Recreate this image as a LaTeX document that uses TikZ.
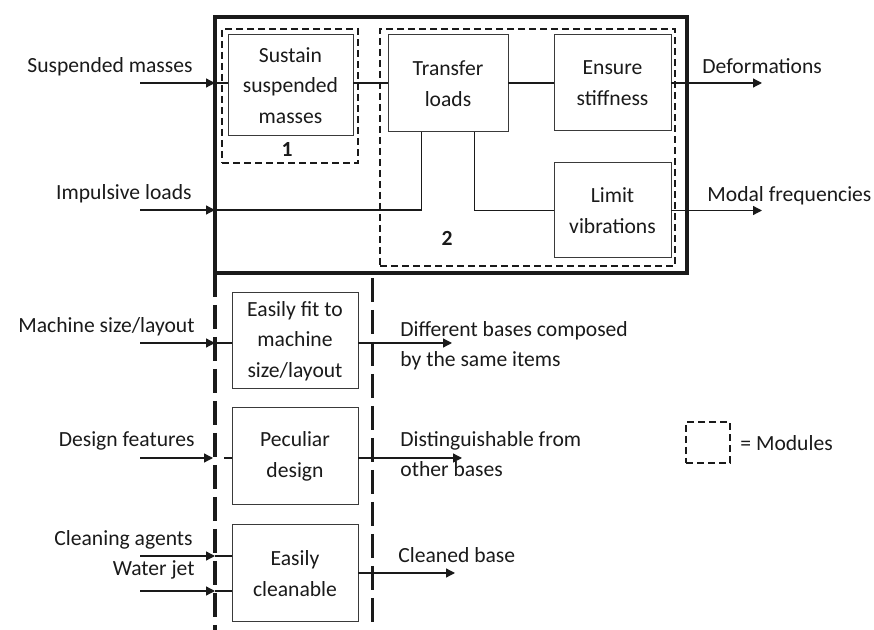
\documentclass[tikz,border=0pt]{standalone}
\usepackage{fontspec}
\setmainfont{Carlito}
\usepackage{tikz}
\usetikzlibrary{arrows.meta, positioning, calc}
\definecolor{ink}{HTML}{1A1A1A}
\definecolor{boxgray}{HTML}{3A3A3A}
\tikzset{
  % Function blocks
  funcbox/.style={
    rectangle, draw=boxgray, line width=0.5pt, fill=white, text=ink,
    align=center, inner sep=0pt, outer sep=0pt
  },
  % Module and frame boxes
  modulebox/.style={
    rectangle, draw=ink, line width=0.65pt, dash pattern=on 3.5pt off 2pt,
    inner sep=0pt, outer sep=0pt
  },
  frame/.style={rectangle, draw=ink, line width=1.75pt, inner sep=0pt, outer sep=0pt},
  lane/.style={draw=ink, line width=1.7pt, dash pattern=on 12pt off 4pt},
  % Arrow styles
  flow/.style={-{Triangle[length=4.5pt, width=4.5pt]}, line width=0.65pt, color=ink},
  link/.style={line width=0.65pt, color=ink},
  % Labels
  flowlabel/.style={inner sep=0pt, text=ink},
  modulelabel/.style={inner sep=0pt, text=ink, font=\fontsize{10.8}{15.3}\selectfont\bfseries},
}
\begin{document}
\begin{tikzpicture}[x=0.5pt, y=-0.5pt,
  every node/.style={font=\fontsize{10.8}{15.3}\selectfont}]
  \useasboundingbox (0,0) rectangle (874,630);

  % upper frame and modules
  \node[frame, minimum width=236pt, minimum height=128pt] (main) at (451,145) {};
  \node[modulebox, minimum width=68pt, minimum height=67pt] (mod1) at (290,96) {};
  \node[modulebox, minimum width=147.5pt, minimum height=118.5pt] (mod2) at (527.5,147.5) {};
  \node[modulelabel, anchor=base] (num1) at (287,157) {1};
  \node[modulelabel, anchor=base] (num2) at (447,246) {2};

  % functions
  \node[funcbox, minimum width=62.5pt, minimum height=50.5pt] (sustain) at (290.5,85.5) {Sustain\\suspended\\masses};
  \node[funcbox, minimum width=60pt, minimum height=48.5pt] (transfer) at (448,83.5) {Transfer\\loads};
  \node[funcbox, minimum width=58.5pt, minimum height=48pt] (ensure) at (612.5,83) {Ensure\\stiffness};
  \node[funcbox, minimum width=58.5pt, minimum height=47.5pt] (limit) at (612.5,210.5) {Limit\\vibrations};
  \node[funcbox, minimum width=63pt, minimum height=48pt] (fit) at (295,341) {Easily fit to\\machine\\size/layout};
  \node[funcbox, minimum width=63pt, minimum height=48.5pt] (peculiar) at (295,456.5) {Peculiar\\design};
  \node[funcbox, minimum width=63pt, minimum height=48.5pt] (clean) at (295,573.5) {Easily\\cleanable};

  % inputs and outputs
  \coordinate (inSM) at (140,83);
  \coordinate (inIL) at (140,210);
  \coordinate (inMS) at (140,343);
  \coordinate (inDF) at (140,458);
  \coordinate (inCA) at (140,556);
  \coordinate (inWJ) at (140,591);
  \coordinate (outDef) at (762,83);
  \coordinate (outMF) at (762,210.5);
  \coordinate (outDB) at (452,343);
  \coordinate (outDS) at (462,458);
  \coordinate (outCB) at (455,573);

  \node[flowlabel, anchor=base east] (lSM) at (193,73) {Suspended masses};
  \node[flowlabel, anchor=base east] (lIL) at (192,200) {Impulsive loads};
  \node[flowlabel, anchor=base east] (lMS) at (195,333) {Machine size/layout};
  \node[flowlabel, anchor=base east] (lDF) at (195,447) {Design features};
  \node[flowlabel, anchor=base east] (lCA) at (193,546) {Cleaning agents};
  \node[flowlabel, anchor=base east] (lWJ) at (195,576) {Water jet};
  \node[flowlabel, anchor=base west] (lDef) at (702,74) {Deformations};
  \node[flowlabel, anchor=base west] (lMF) at (707,201.5) {Modal frequencies};
  % multi-line labels sit on their last line
  \node[flowlabel, anchor=base west, align=left] (lDB) at (400,367) {Different bases composed\\by the same items};
  \node[flowlabel, anchor=base west, align=left] (lDS) at (400,477) {Distinguishable from\\other bases};
  \node[flowlabel, anchor=base west] (lCB) at (398,563) {Cleaned base};

  % upper connectors
  \draw[flow] (inSM) -- (inSM -| main.west);
  \draw[link] (inSM -| main.west) -- (sustain.west |- inSM);
  \draw[link] (sustain.east |- inSM) -- (transfer.west |- inSM);
  \draw[link] (transfer.east |- inSM) -- (ensure.west);
  \draw[flow] (ensure.east) -- (outDef);
  \draw[flow] (inIL) -- (inIL -| main.west);
  \draw[link] (inIL -| main.west) -| ($(transfer.south west)!0.28!(transfer.south east)$);
  \draw[link] ($(transfer.south west)!0.72!(transfer.south east)$) |- (limit.west);
  \draw[flow] (limit.east) -- (outMF);

  % lower connectors
  \draw[flow] (inMS) -- (inMS -| main.west);
  \draw[link] (inMS -| main.west) -- (fit.west |- inMS);
  \draw[flow] (fit.east |- inMS) -- (outDB);
  \draw[flow] (inDF) -- ([xshift=-1pt]inDF -| main.west);
  \draw[link] ([xshift=4.5pt]inDF -| main.west) -- (peculiar.west |- inDF);
  \draw[flow] (peculiar.east |- inDF) -- (outDS);
  \draw[flow] (inCA) -- (inCA -| main.west);
  \draw[link] (inCA -| main.west) -- (clean.west |- inCA);
  \draw[flow] (inWJ) -- (inWJ -| main.west);
  \draw[link] (inWJ -| main.west) -- (clean.west |- inWJ);
  \draw[flow] (clean.east |- outCB) -- (outCB);

  % lanes
  \coordinate (laneR) at (372.5,278);
  \draw[lane] (main.south west) -- (main.south west |- 0,630);
  \draw[lane] (laneR) -- (laneR |- 0,630);

  % legend
  \node[modulebox, minimum width=22pt, minimum height=20.5pt] (legend) at (708,442.5) {};
  \node[flowlabel, anchor=base west] (lMod) at (740,451) {= Modules};
\end{tikzpicture}
\end{document}
